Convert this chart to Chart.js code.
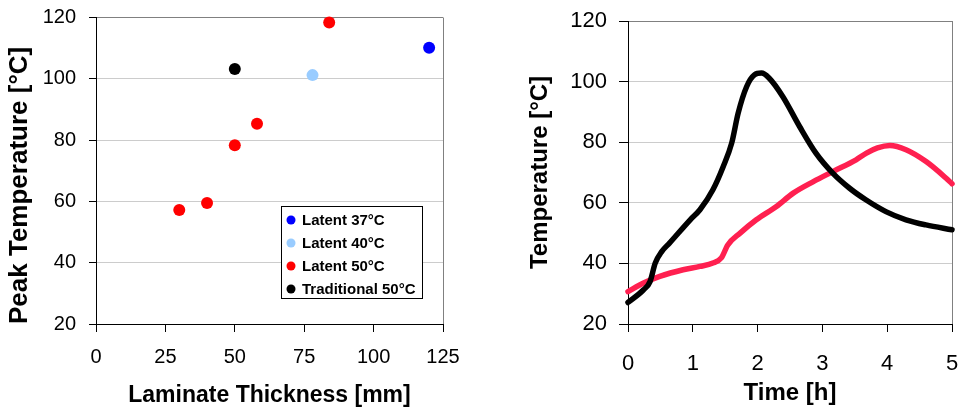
<!DOCTYPE html>
<html>
<head>
<meta charset="utf-8">
<script src="https://cdn.jsdelivr.net/npm/chart.js@4.4.1/dist/chart.umd.min.js"></script>
<style>
  body { margin: 0; background: #fff; }
  .wrap { position: absolute; top: 0; height: 410px; }
  #leftWrap { left: 0; width: 470px; }
  #rightWrap { left: 470px; width: 488px; }
</style>
</head>
<body>
<div class="wrap" id="leftWrap"><canvas id="peakChart" width="470" height="410"></canvas></div>
<div class="wrap" id="rightWrap"><canvas id="tempChart" width="488" height="410"></canvas></div>
<script>
// peak temperature vs laminate thickness
const latent37 = [{ x: 120, y: 110.1 }];
const latent40 = [{ x: 78, y: 101.2 }];
const latent50Thickness = [30, 40, 50, 58, 84];
const latent50Peak = [57.2, 59.5, 78.3, 85.3, 118.4];
const traditional50 = [{ x: 50, y: 103.2 }];

// temperature curves over time
const latentTime = [0, 0.24, 0.49, 0.85, 1.11, 1.31, 1.44, 1.54, 1.73, 1.98, 2.29, 2.55, 2.86, 3.16, 3.52, 3.68, 3.85, 4.04, 4.29, 4.60, 4.91, 5.0];
const latentTemp = [30.7, 33.5, 35.7, 37.9, 39.0, 40.1, 41.8, 46.1, 50.0, 54.4, 58.8, 63.2, 67.0, 70.3, 74.2, 76.4, 78.1, 78.9, 77.5, 73.6, 68.1, 66.3];
const tradTime = [0, 0.24, 0.34, 0.42, 0.52, 0.64, 0.96, 1.11, 1.31, 1.47, 1.60, 1.70, 1.83, 1.95, 2.06, 2.18, 2.39, 2.65, 2.90, 3.16, 3.42, 3.67, 3.98, 4.29, 4.60, 5.0];
const tradTemp = [27.1, 31.3, 34.0, 40.1, 43.9, 46.7, 54.4, 57.7, 64.3, 72.0, 79.7, 89.6, 98.3, 102.2, 102.8, 101.1, 95.0, 85.1, 76.4, 69.8, 64.8, 61.0, 57.1, 54.4, 52.7, 51.1];

const FONT = '"Liberation Sans", Arial, sans-serif';
const toPoints = (xs, ys) => xs.map((x, i) => ({ x: x, y: ys[i] }));

// fixed axis sizes so the plot areas land where we want them
function fixHeight(h) {
  return (s) => { s.height = h; s.paddingLeft = 0; s.paddingRight = 0; };
}
function fixWidth(w) {
  return (s) => { s.width = w; s.paddingTop = 0; s.paddingBottom = 0; };
}
function xGrid(top) {
  return (c) => c.tick.value === top ? '#808080' : 'transparent';
}
function yGrid(c) {
  if (c.tick.value === 120) return '#808080';
  if (c.tick.value === 20) return 'transparent';
  return '#cccccc';
}

// boxed legend drawn inside the plot area, lower right
const boxLegend = {
  id: 'boxLegend',
  afterDatasetsDraw(chart) {
    const { ctx, chartArea } = chart;
    const x = Math.round(chartArea.right - 162);
    const y = Math.round(chartArea.top + 188);
    const w = 141, h = 92;
    ctx.save();
    ctx.fillStyle = '#fff';
    ctx.fillRect(x, y, w, h);
    ctx.strokeStyle = '#000';
    ctx.lineWidth = 1;
    ctx.strokeRect(x + 0.5, y + 0.5, w, h);
    ctx.font = 'bold 15px ' + FONT;
    ctx.textBaseline = 'middle';
    chart.data.datasets.forEach((ds, i) => {
      const cy = y + 14 + i * 23;
      ctx.fillStyle = ds.backgroundColor;
      ctx.beginPath();
      ctx.arc(x + 10, cy, 4.5, 0, Math.PI * 2);
      ctx.fill();
      ctx.fillStyle = '#000';
      ctx.fillText(ds.label, x + 21, cy + 1);
    });
    ctx.restore();
  }
};

new Chart(document.getElementById('peakChart'), {
  type: 'scatter',
  data: {
    datasets: [
      { label: 'Latent 37°C', data: latent37, backgroundColor: '#0000ff' },
      { label: 'Latent 40°C', data: latent40, backgroundColor: '#99ccff' },
      { label: 'Latent 50°C', data: toPoints(latent50Thickness, latent50Peak), backgroundColor: '#ff0000' },
      { label: 'Traditional 50°C', data: traditional50, backgroundColor: '#000000' }
    ]
  },
  options: {
    responsive: false,
    animation: false,
    clip: false,
    layout: { padding: { top: 17.5, right: 27, bottom: 0, left: 0 } },
    elements: { point: { radius: 6, borderWidth: 0, hoverRadius: 6 } },
    plugins: { legend: { display: false }, tooltip: { enabled: false } },
    scales: {
      x: {
        type: 'linear', min: 0, max: 125,
        afterFit: fixHeight(86),
        ticks: { stepSize: 25, color: '#000', padding: 13.5, font: { family: FONT, size: 20 } },
        grid: { color: xGrid(125), tickColor: '#000', tickLength: 8 },
        border: { color: '#000', width: 1 },
        title: { display: true, text: 'Laminate Thickness [mm]', color: '#000', padding: { top: 0, bottom: 1 }, font: { family: FONT, size: 23, weight: 'bold' } }
      },
      y: {
        min: 20, max: 120,
        afterFit: fixWidth(96),
        ticks: { stepSize: 20, color: '#000', padding: 13, font: { family: FONT, size: 20 } },
        grid: { color: yGrid, tickColor: '#000', tickLength: 7 },
        border: { color: '#000', width: 1 },
        title: { display: true, text: 'Peak Temperature [°C]', align: 'start', color: '#000', padding: { top: 4, bottom: 0 }, font: { family: FONT, size: 26, weight: 'bold' } }
      }
    }
  },
  plugins: [boxLegend]
});

new Chart(document.getElementById('tempChart'), {
  type: 'scatter',
  data: {
    datasets: [
      { label: 'Traditional', data: toPoints(tradTime, tradTemp), borderColor: '#000000', backgroundColor: '#000000' },
      { label: 'Latent', data: toPoints(latentTime, latentTemp), borderColor: '#ff2050', backgroundColor: '#ff2050' }
    ]
  },
  options: {
    responsive: false,
    animation: false,
    clip: false,
    layout: { padding: { top: 21, right: 6, bottom: 0, left: 0 } },
    elements: {
      point: { radius: 0, hoverRadius: 0 },
      line: { borderWidth: 5.5, cubicInterpolationMode: 'monotone', borderCapStyle: 'round', borderJoinStyle: 'round' }
    },
    datasets: { scatter: { showLine: true } },
    plugins: { legend: { display: false }, tooltip: { enabled: false } },
    scales: {
      x: {
        type: 'linear', min: 0, max: 5,
        afterFit: fixHeight(86),
        ticks: { stepSize: 1, color: '#000', padding: 18.5, font: { family: FONT, size: 22 } },
        grid: { color: xGrid(5), tickColor: '#000', tickLength: 8 },
        border: { color: '#000', width: 1 },
        title: { display: true, text: 'Time [h]', color: '#000', padding: { top: 0, bottom: 2.5 }, font: { family: FONT, size: 24, weight: 'bold' } }
      },
      y: {
        min: 20, max: 120,
        afterFit: fixWidth(158),
        ticks: { stepSize: 20, color: '#000', padding: 12, font: { family: FONT, size: 22 } },
        grid: { color: yGrid, tickColor: '#000', tickLength: 9 },
        border: { color: '#000', width: 1 },
        title: { display: true, text: 'Temperature [°C]', color: '#000', padding: { top: 55.6, bottom: 0 }, font: { family: FONT, size: 24, weight: 'bold' } }
      }
    }
  }
});
</script>
</body>
</html>
